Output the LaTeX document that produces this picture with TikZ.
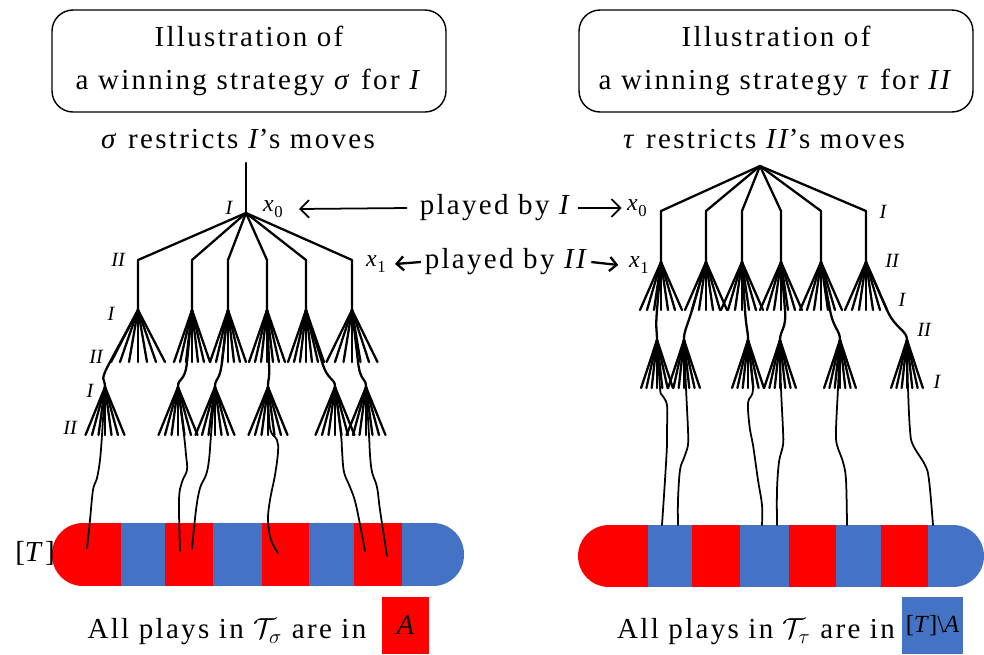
\documentclass[tikz,border=0pt]{standalone}
\usepackage{fix-cm}
\usepackage{fontspec}
\setmainfont{Liberation Serif}
\usetikzlibrary{arrows.meta,calc}
\definecolor{bred}{HTML}{FF0000}
\definecolor{bblue}{HTML}{4472C4}
\newcommand\Lsp{\addfontfeature{LetterSpace=8}}
\newcommand\xs[1]{\textit{x}\kern0.03em\raisebox{-0.5ex}{\fontsize{9.5}{10}\selectfont #1}}
\newcommand\cont[3]{\draw[tree] (#1) -- (#2) .. controls ($(#1)!1.4!(#2)$) and ($(#3)+(0,-10)$) .. (#3);}
\begin{document}
\begin{tikzpicture}[x=0.02cm,y=-0.02cm,
  tree/.style={line width=1.3pt, line cap=round, line join=round},
  play/.style={line width=1.0pt, line cap=round},
  big/.style={font=\fontsize{16.5}{24.4}\selectfont\Lsp, inner sep=0pt},
  lab/.style={font=\fontsize{11.5}{12}\selectfont\itshape, inner sep=0pt},
  xl/.style={font=\fontsize{13.6}{14}\selectfont, inner sep=0pt},
  titlebox/.style={draw, line width=0.8pt, rounded corners=0.42cm, minimum width=7.88cm, minimum height=2.04cm, align=center, big},
  arr/.style={line width=1pt, -{Straight Barb[length=5pt,width=10pt]}},
  arrs/.style={line width=1.3pt, -{Straight Barb[length=4pt,width=8pt]}},
]
\useasboundingbox (0,0) rectangle (984,654);

% titles
\node[titlebox] (t1) at (249,61) {Illustration of\\a winning strategy \textit{σ} for \textit{I}};
\node[titlebox] (t2) at (776,61) {Illustration of\\a winning strategy \textit{τ} for \textit{II}};
\node[big] (r1) at (238,139) {\textit{σ} restricts \textit{I}\kern-0.08em's moves};
\node[big] (r2) at (764,139) {\textit{τ} restricts \textit{II}\kern-0.08em's moves};

% bars
\begin{scope}
\clip[rounded corners=0.62cm] (52,523) rectangle (464,586);
\fill[bred] (52,523) rectangle (121,586);
\fill[bblue] (121,523) rectangle (165,586);
\fill[bred] (165,523) rectangle (213,586);
\fill[bblue] (213,523) rectangle (262,586);
\fill[bred] (262,523) rectangle (309,586);
\fill[bblue] (309,523) rectangle (354,586);
\fill[bred] (354,523) rectangle (402,586);
\fill[bblue] (402,523) rectangle (464,586);
\end{scope}
\begin{scope}
\clip[rounded corners=0.62cm] (578,525) rectangle (984,587);
\fill[bred] (578,525) rectangle (648,587);
\fill[bblue] (648,525) rectangle (692,587);
\fill[bred] (692,525) rectangle (740,587);
\fill[bblue] (740,525) rectangle (789,587);
\fill[bred] (789,525) rectangle (836,587);
\fill[bblue] (836,525) rectangle (881,587);
\fill[bred] (881,525) rectangle (928,587);
\fill[bblue] (928,525) rectangle (984,587);
\end{scope}

% left tree
\coordinate (L0) at (246,163);
\coordinate (Lr) at (246,213);
\draw[tree] (L0) -- (Lr);
\foreach \x/\s in {138/9,192/6,228/6,267/6,306/6,352/8.5} {
  \draw[tree] (Lr) -- (\x,260) -- (\x,310);
  \foreach \k in {-3,...,3} \draw[tree] (\x,310) -- (\x+\k*\s,362);
}
\foreach \x in {105,178,215,268,335,366}
  \foreach \k in {-3,...,3} \draw[tree] (\x,387) -- (\x+\k*6.5,435);
\cont{138,310}{110,362}{105,387}
\cont{192,310}{187,362}{178,387}
\cont{228,310}{222,362}{215,387}
\cont{267,310}{269,362}{268,387}
\cont{306,310}{322,362}{335,387}
\cont{352,310}{358,362}{366,387}
\draw[play] plot[smooth,tension=0.6] coordinates {(105,387) (102,435) (100,460) (97,478) (93,490) (90,520) (87,548)};
\draw[play] plot[smooth,tension=0.6] coordinates {(178,387) (184,435) (186,455) (187,470) (182,482) (179,500) (180,551)};
\draw[play] plot[smooth,tension=0.6] coordinates {(215,387) (211,435) (209,460) (206,475) (200,488) (196,510) (192,549)};
\draw[play] plot[smooth,tension=0.6] coordinates {(268,387) (270,428) (277,440) (278,452) (275,475) (270,500) (268,520) (271,540) (278,553)};
\draw[play] plot[smooth,tension=0.6] coordinates {(335,387) (341,435) (342,450) (344,472) (350,487) (356,505) (365,551)};
\draw[play] plot[smooth,tension=0.6] coordinates {(366,387) (369,435) (370,455) (372,472) (377,487) (380,510) (387,556)};

% right tree
\coordinate (R0) at (760,166);
\foreach \x in {661,706,742,781,821,866} {
  \draw[tree] (R0) -- (\x,211) -- (\x,262);
  \foreach \k in {-3,...,3} \draw[tree] (\x,262) -- (\x+\k*7,310);
}
\foreach \x in {657,684,748,780,840,907}
  \foreach \k in {-3,...,3} \draw[tree] (\x,340) -- (\x+\k*5.3,388);
\cont{661,262}{657,310}{657,340}
\cont{706,262}{692,310}{684,340}
\cont{742,262}{745,310}{748,340}
\cont{781,262}{785,310}{780,340}
\cont{821,262}{830,310}{840,340}
\cont{866,262}{887,310}{907,340}
\draw[play] plot[smooth,tension=0.6] coordinates {(657,340) (660,388) (662,395) (667,405) (667,430) (667,445) (665,480) (662,525)};
\draw[play] plot[smooth,tension=0.6] coordinates {(684,340) (686,388) (688,430) (688,445) (684,458) (680,470) (678,500) (678,525)};
\draw[play] plot[smooth,tension=0.6] coordinates {(748,340) (753,388) (748,403) (750,430) (753,445) (758,480) (762,505) (762,525)};
\draw[play] plot[smooth,tension=0.6] coordinates {(780,340) (781,388) (783,430) (783,445) (779,462) (777,490) (777,525)};
\draw[play] plot[smooth,tension=0.6] coordinates {(840,340) (838,388) (836,430) (837,445) (843,462) (846,480) (847,525)};
\draw[play] plot[smooth,tension=0.6] coordinates {(907,340) (908,388) (910,430) (913,445) (925,465) (929,480) (933,525)};

% player labels
\node[lab] (la1) at (229,208) {I};
\node[lab] (la2) at (118,260) {II};
\node[lab] (la3) at (111,314) {I};
\node[lab] (la4) at (96,357) {II};
\node[lab] (la5) at (90,391) {I};
\node[lab] (la6) at (70,428) {II};
\node[lab] (ra1) at (883,212) {I};
\node[lab] (ra2) at (892,261) {II};
\node[lab] (ra3) at (902,300) {I};
\node[lab] (ra4) at (924,330) {II};
\node[lab] (ra5) at (937,382) {I};

% x labels and arrows
\node[xl] (x0L) at (273,209) {\xs{0}};
\node[xl] (x1L) at (376,264) {\xs{1}};
\node[xl] (x0R) at (637,208) {\xs{0}};
\node[xl] (x1R) at (639,265) {\xs{1}};
\node[big] (p1) at (496,208) {played by \textit{I}};
\node[big] (p2) at (507,262) {played by \textit{II}};
\draw[arr] ([xshift=-7pt]p1.west) -- ([xshift=9pt]x0L.east);
\draw[arr] ([xshift=3pt]p1.east) -- ([xshift=-3pt]x0R.west);
\draw[arrs] ([xshift=-2pt]p2.west) -- ([xshift=5pt]x1L.east);
\draw[arrs] ([xshift=1pt]p2.east) -- ([xshift=-6pt]x1R.west);

% [T]
\node[big] (TT) at (35,553) {[\textit{T}]};

% bottom texts
\node[big] (b1) at (227,632) {All plays in $\mathcal{T}_{\sigma}$ are in};
\node[fill=bred, minimum width=0.94cm, minimum height=1.14cm, inner sep=0pt, font=\fontsize{16}{16}\selectfont\itshape] (A1) at (405.5,625.5) {A};
\node[big] (b2) at (756,632) {All plays in $\mathcal{T}_{\tau}$ are in};
\node[fill=bblue, minimum width=1.22cm, minimum height=1.14cm, inner sep=0pt, font=\fontsize{14}{14}\selectfont] (A2) at (932.5,625.5) {[\textit{T}]\textbackslash\textit{A}};
\end{tikzpicture}
\end{document}
